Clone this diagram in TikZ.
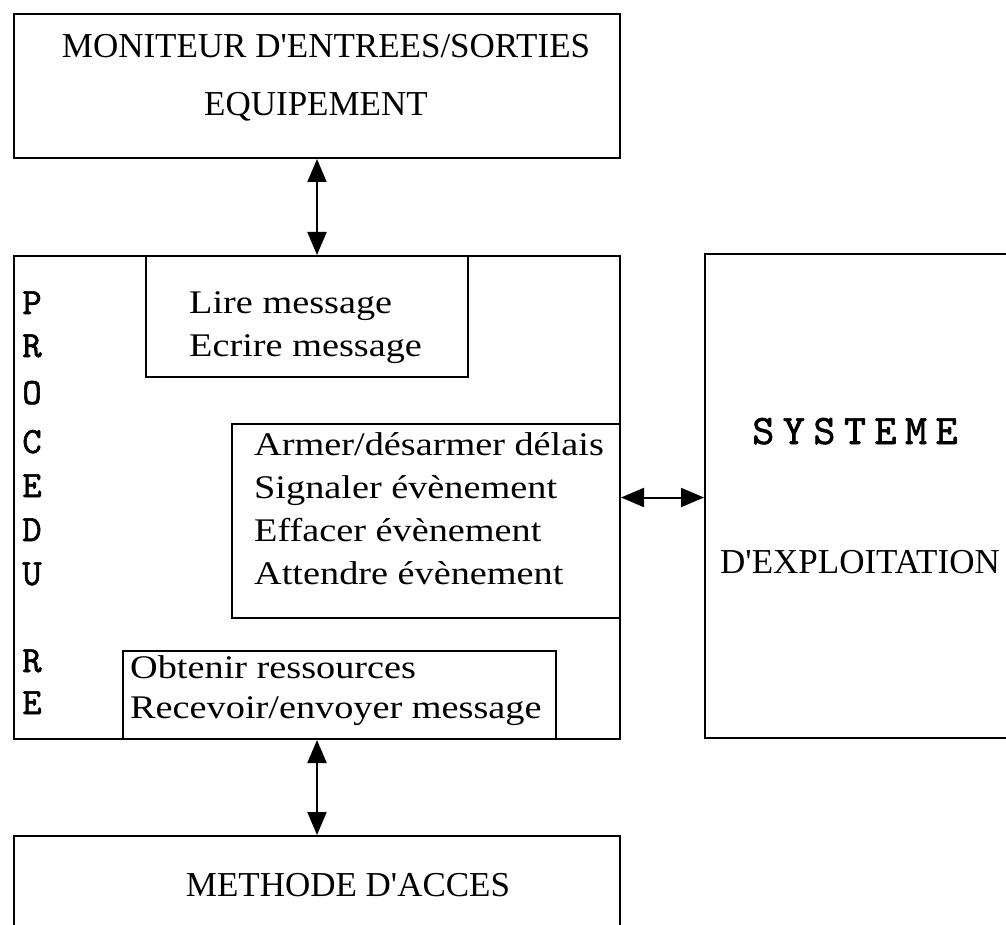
\documentclass[tikz,border=0pt]{standalone}
\usepackage{fontspec}
\setmainfont{Liberation Serif}
\newfontfamily\lcfont[FakeStretch=1.16]{Liberation Serif}
\newfontfamily\tyfont{lmmono10-regular.otf}[FakeBold=1.5]
\usetikzlibrary{arrows.meta}
\begin{document}
\begin{tikzpicture}[x=1pt,y=-1pt,
  box/.style={draw,line width=2pt,inner sep=0pt,anchor=north west},
  conn/.style={line width=2pt,{Triangle[length=23pt,width=19pt]}-{Triangle[length=23pt,width=19pt]}},
  capt/.style={inner sep=0pt,anchor=base,font=\fontsize{35}{40}\selectfont},
  lc/.style={inner sep=0pt,anchor=base west,font=\lcfont\fontsize{33}{38}\selectfont},
  vlet/.style={inner sep=0pt,anchor=base,font=\tyfont\fontsize{37}{40}\selectfont},
]
\useasboundingbox (0,0) rectangle (1006,925);
\clip (0,0) rectangle (1006,925);
% boxes
\node[box,minimum width=606pt,minimum height=144pt] (moni) at (13,13) {};
\node[box,minimum width=606pt,minimum height=483pt] (proc) at (13,255) {};
\node[box,minimum width=322pt,minimum height=121pt] (lire) at (145,255) {};
\node[box,minimum width=388pt,minimum height=194pt] (armer) at (231,423) {};
\node[box,minimum width=433pt,minimum height=88pt] (obt) at (122,650) {};
\node[box,minimum width=330pt,minimum height=484pt] (sys) at (704,253) {};
\node[box,minimum width=606pt,minimum height=150pt] (meth) at (13,835) {};
% connectors
\draw[conn] (moni.south) -- (proc.north);
\draw[conn] (proc.east) -- (proc.east -| sys.west);
\draw[conn] (proc.south) -- (meth.north);
% texts
\node[capt] (m1) at (326,58) {MONITEUR D\textquotesingle ENTREES/SORTIES};
\node[capt] (m2) at (316,116) {EQUIPEMENT};
\node[lc] (l1) at (189,313) {Lire message};
\node[lc] (l2) at (189,356) {Ecrire message};
\node[lc] (a1) at (254,455) {Armer/désarmer délais};
\node[lc] (a2) at (254,498) {Signaler évènement};
\node[lc] (a3) at (254,541) {Effacer évènement};
\node[lc] (a4) at (254,584) {Attendre évènement};
\node[lc] (o1) at (130,678) {Obtenir ressources};
\node[lc] (o2) at (130,718) {Recevoir/envoyer message};
\node[vlet] (p1) at (32,314) {P};
\node[vlet] (p2) at (32,357) {R};
\node[vlet] (p3) at (32,404) {O};
\node[vlet] (p4) at (32,453) {C};
\node[vlet] (p5) at (32,497) {E};
\node[vlet] (p6) at (32,541) {D};
\node[vlet] (p7) at (32,585) {U};
\node[vlet] (p8) at (32,672) {R};
\node[vlet] (p9) at (32,714) {E};
\node[inner sep=0pt,anchor=base,font=\tyfont\fontsize{42}{46}\selectfont] (s1) at (855,444) {S\hspace{8.5pt}Y\hspace{8.5pt}S\hspace{8.5pt}T\hspace{8.5pt}E\hspace{8.5pt}M\hspace{8.5pt}E};
\node[capt,anchor=base west] (s2) at (720,573) {D\textquotesingle EXPLOITATION};
\node[capt] (mt) at (348,896) {METHODE D\textquotesingle ACCES};
\end{tikzpicture}
\end{document}
